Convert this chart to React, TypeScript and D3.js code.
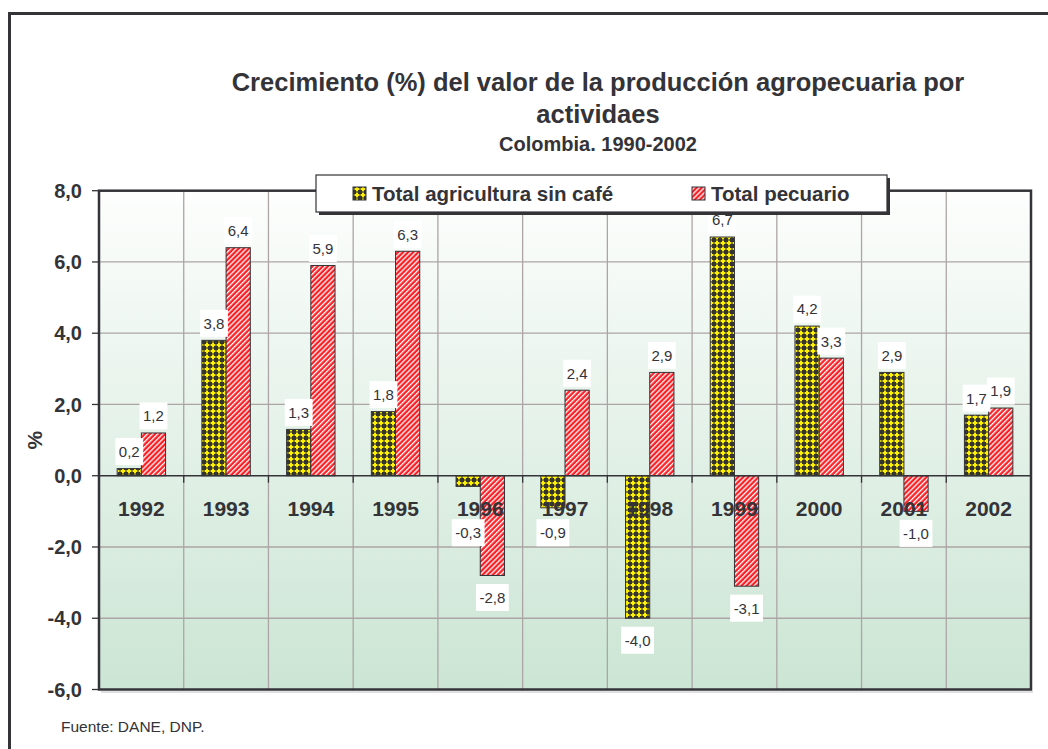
import React from 'react';
import * as d3 from 'd3';

const years = ['1992', '1993', '1994', '1995', '1996', '1997', '1998', '1999', '2000', '2001', '2002'];
const agricultura = [0.2, 3.8, 1.3, 1.8, -0.3, -0.9, -4.0, 6.7, 4.2, 2.9, 1.7];
const pecuario = [1.2, 6.4, 5.9, 6.3, -2.8, 2.4, 2.9, -3.1, 3.3, -1.0, 1.9];
const yTicks = [-6, -4, -2, 0, 2, 4, 6, 8];
const seriesNames = ['Total agricultura sin café', 'Total pecuario'];

const W = 1048;
const H = 749;
const plot = { left: 99, top: 190.7, right: 1031, bottom: 689.5 };
const FONT = '"Liberation Sans", Arial, Helvetica, sans-serif';
const INK = '#333338';
const GRID = '#ada5a5';

const fmt = (v: number) => v.toFixed(1).replace('.', ',');

// rough Arial advance widths, enough to size the label boxes
const textWidth = (s: string, size: number) =>
  s.split('').reduce((w, c) => w + (c === ',' || c === '.' ? 0.278 : c === '-' ? 0.333 : 0.556), 0) * size;

export default function App() {
  const x = d3.scaleBand<string>().domain(years).range([plot.left, plot.right]);
  const barW = x.bandwidth() / 3.5;
  const sub = d3.scaleBand<string>().domain(['agr', 'pec']).range([0, 2 * barW]);
  const groupOffset = (x.bandwidth() - 2 * barW) / 2;
  const y = d3.scaleLinear().domain([-6, 8]).range([plot.bottom, plot.top]);
  const y0 = y(0);

  const series = [
    { key: 'agr', values: agricultura, fill: 'url(#patAgr)' },
    { key: 'pec', values: pecuario, fill: 'url(#patPec)' },
  ];

  const bars = series.flatMap(s =>
    s.values.map((v, i) => {
      const bx = (x(years[i]) || 0) + groupOffset + (sub(s.key) || 0);
      return { key: s.key + i, v, x: bx, y: Math.min(y(v), y0), h: Math.abs(y(v) - y0), fill: s.fill };
    })
  );

  const labelSize = 15;
  const labels = bars.map(b => {
    const cx = b.x + barW / 2;
    const cy = b.v >= 0 ? y(b.v) - 17 : Math.max(y(b.v) + 22, y0 + 57);
    const t = fmt(b.v);
    const w = textWidth(t, labelSize) + 7;
    return { key: 'l' + b.key, cx, cy, t, w };
  });

  const bounds = x.domain().map(d => x(d) || 0).slice(1);

  return (
    <div style={{ position: 'absolute', left: 0, top: 0 }}>
      <svg width={W} height={H} style={{ display: 'block', background: '#fff' }} fontFamily={FONT}>
        <defs>
          <linearGradient id="bgGrad" x1="0" y1="0" x2="0" y2="1">
            <stop offset="0%" stopColor="#fdfefd" />
            <stop offset="55%" stopColor="#e1f0e6" />
            <stop offset="100%" stopColor="#cbe5d4" />
          </linearGradient>
          <pattern id="patAgr" width="6" height="6" patternUnits="userSpaceOnUse">
            <rect width="6" height="6" fill="#35352f" />
            <rect x="0.6" y="2" width="4.8" height="2" fill="#ffef00" />
            <rect x="2" y="0.6" width="2" height="4.8" fill="#ffef00" />
          </pattern>
          <pattern id="patPec" width="3.6" height="3.6" patternUnits="userSpaceOnUse" patternTransform="rotate(45)">
            <rect width="3.6" height="3.6" fill="#fb1e24" />
            <rect width="1.3" height="3.6" fill="#ffffff" />
          </pattern>
        </defs>

        {/* outer frame */}
        <rect x={9.5} y={13.5} width={W + 20} height={H + 20} fill="none" stroke={INK} strokeWidth={3} />

        {/* titles */}
        <g fill={INK} fontWeight="bold" textAnchor="middle">
          <text x={598} y={91} fontSize={25.5}>Crecimiento (%) del valor de la producción agropecuaria por</text>
          <text x={598} y={123} fontSize={25.5}>actividaes</text>
          <text x={598} y={151} fontSize={20}>Colombia. 1990-2002</text>
        </g>

        {/* plot background */}
        <rect x={plot.left} y={plot.top} width={plot.right - plot.left} height={plot.bottom - plot.top} fill="url(#bgGrad)" />
        <line x1={plot.left + 2} x2={plot.right + 2} y1={plot.bottom + 2.5} y2={plot.bottom + 2.5} stroke="#d6d6d6" strokeWidth={1.5} />

        {/* grid */}
        {yTicks.filter(t => t !== 0 && t !== -6 && t !== 8).map(t => (
          <line key={'gy' + t} x1={plot.left} x2={plot.right} y1={y(t)} y2={y(t)} stroke={GRID} strokeWidth={1.3} />
        ))}
        {bounds.map((bx, i) => (
          <line key={'gx' + i} x1={bx} x2={bx} y1={plot.top} y2={plot.bottom} stroke={GRID} strokeWidth={1.3} />
        ))}

        {/* bars */}
        {bars.map(b => (
          <rect key={b.key} x={b.x} y={b.y} width={barW} height={b.h} fill={b.fill} stroke={INK} strokeWidth={1} />
        ))}

        {/* zero axis + ticks */}
        <line x1={plot.left} x2={plot.right} y1={y0} y2={y0} stroke={INK} strokeWidth={1.5} />
        {bounds.map((bx, i) => (
          <line key={'tx' + i} x1={bx} x2={bx} y1={y0} y2={y0 + 7} stroke={INK} strokeWidth={1.3} />
        ))}

        {/* year labels */}
        <g fill={INK} fontWeight="bold" fontSize={21} textAnchor="middle">
          {years.map(d => (
            <text key={'yr' + d} x={(x(d) || 0) + x.bandwidth() / 2} y={y0 + 40}>{d}</text>
          ))}
        </g>

        {/* y axis ticks and labels */}
        {yTicks.map(t => (
          <g key={'yt' + t}>
            <line x1={plot.left - 7} x2={plot.left} y1={y(t)} y2={y(t)} stroke={INK} strokeWidth={1.3} />
            <text x={82} y={y(t)} dy="0.36em" textAnchor="end" fontSize={20} fontWeight="bold" fill={INK}>
              {fmt(t)}
            </text>
          </g>
        ))}
        <text transform={`translate(42,${(plot.top + plot.bottom) / 2}) rotate(-90)`} textAnchor="middle" fontSize={21} fontWeight="bold" fill={INK}>%</text>

        {/* plot border */}
        <rect x={plot.left} y={plot.top} width={plot.right - plot.left} height={plot.bottom - plot.top} fill="none" stroke={INK} strokeWidth={2.5} />

        {/* data labels */}
        {labels.map(l => (
          <g key={l.key}>
            <rect x={l.cx - l.w / 2} y={l.cy - 13.5} width={l.w} height={27} fill="#fff" />
            <text x={l.cx} y={l.cy} dy="0.36em" textAnchor="middle" fontSize={labelSize} fill={INK}>{l.t}</text>
          </g>
        ))}

        {/* legend */}
        <g>
          <rect x={319} y={178} width={571} height={37} fill={INK} />
          <rect x={316} y={175} width={571} height={37} fill="#fff" stroke={INK} strokeWidth={1.2} />
          <rect x={353} y={187} width={13} height={13} fill="url(#patAgr)" stroke={INK} strokeWidth={1} />
          <text x={372} y={194} dy="0.36em" fontSize={20.5} fontWeight="bold" fill={INK}>{seriesNames[0]}</text>
          <rect x={692} y={187} width={13} height={13} fill="url(#patPec)" stroke={INK} strokeWidth={1} />
          <text x={711} y={194} dy="0.36em" fontSize={20.5} fontWeight="bold" fill={INK}>{seriesNames[1]}</text>
        </g>

        {/* source */}
        <text x={61} y={732} fontSize={15.5} fill={INK}>Fuente: DANE, DNP.</text>
      </svg>
    </div>
  );
}
